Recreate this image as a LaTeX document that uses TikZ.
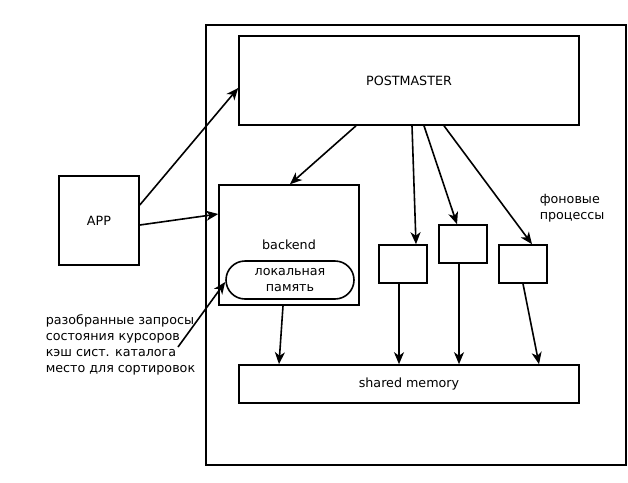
\documentclass[tikz,border=0pt]{standalone}
\usepackage{fontspec}
\setmainfont{DejaVu Sans}
\usetikzlibrary{arrows.meta}
\begin{document}
\begin{tikzpicture}[x=1pt, y=-1pt, line width=1.6pt,
  font=\fontsize{12.7}{15.8}\selectfont,
  box/.style={draw, rectangle, inner sep=0pt},
  arr/.style={-{Stealth[length=12pt,width=10pt,inset=3.5pt]}}]
  \useasboundingbox (0,0) rectangle (628,482);
  \node[box, minimum width=420pt, minimum height=440pt] (outer) at (416,245) {};
  \node[box, minimum width=340pt, minimum height=89pt] (pm) at (409,80.5) {POSTMASTER};
  \node[box, minimum width=80pt, minimum height=89pt] (app) at (99,220.5) {APP};
  \node[box, minimum width=140pt, minimum height=120pt] (backend) at (289,245) {backend};
  \node[box, rounded corners=19pt, minimum width=128pt, minimum height=38pt, align=center] (mem) at (290,280) {локальная\\память};
  \node[box, minimum width=48pt, minimum height=38pt] (bgA) at (403,264) {};
  \node[box, minimum width=48pt, minimum height=38pt] (bgB) at (463,244) {};
  \node[box, minimum width=48pt, minimum height=38pt] (bgC) at (523,264) {};
  \node[box, minimum width=340pt, minimum height=38pt] (shm) at (409,384) {shared memory};
  \node[align=left, anchor=west, inner sep=0pt] (bglabel) at (539,208) {фоновые\\процессы};
  \node[align=left, anchor=west, inner sep=0pt] (note) at (45,345) {разобранные запросы\\состояния курсоров\\кэш сист. каталога\\место для сортировок};
  \coordinate (notept) at (178,347);
  % arrows
  \draw[arr] ([yshift=15.5pt]app.east) -- ([yshift=-7.5pt]pm.west);
  \draw[arr] ([yshift=-4.5pt]app.east) -- ([yshift=31pt]backend.west);
  \draw[arr] ([xshift=-53pt]pm.south) -- ([xshift=1pt]backend.north);
  \draw[arr] ([xshift=3pt]pm.south) -- ([xshift=13pt]bgA.north);
  \draw[arr] ([xshift=15pt]pm.south) -- ([xshift=-6pt]bgB.north);
  \draw[arr] ([xshift=35pt]pm.south) -- ([xshift=9pt]bgC.north);
  \draw[arr] ([xshift=-4pt]bgA.south) -- ([xshift=-10pt]shm.north);
  \draw[arr] ([xshift=-4pt]bgB.south) -- ([xshift=50pt]shm.north);
  \draw[arr] ([xshift=0pt]bgC.south) -- ([xshift=130pt]shm.north);
  \draw[arr] ([xshift=-6pt]backend.south) -- ([xshift=-130pt]shm.north);
  \draw[arr] (notept) -- ([yshift=-2pt]mem.west);
\end{tikzpicture}
\end{document}
